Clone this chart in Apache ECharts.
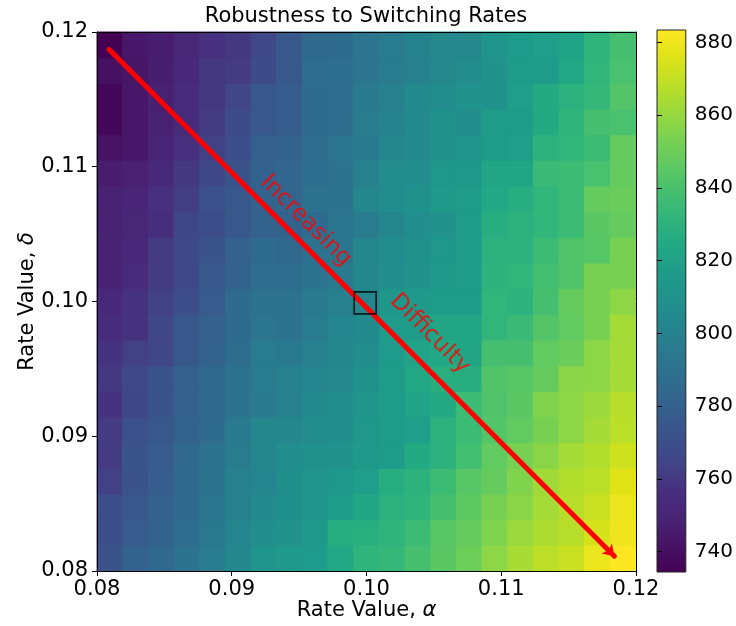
<!DOCTYPE html>
<html>
<head>
<meta charset="utf-8">
<script src="https://cdn.jsdelivr.net/npm/echarts@6/dist/echarts.min.js"></script>
<style>html,body{margin:0;padding:0;background:#fff;}#chart{width:736px;height:626px;}</style>
</head>
<body>
<div id="chart"></div>
<script>
// Switching-rate grid (alpha along x, delta along y)
const alphaValues = [0.080,0.082,0.084,0.086,0.088,0.090,0.092,0.094,0.096,0.098,0.100,0.102,0.104,0.106,0.108,0.110,0.112,0.114,0.116,0.118,0.120];
const deltaValues = [0.080,0.082,0.084,0.086,0.088,0.090,0.092,0.094,0.096,0.098,0.100,0.102,0.104,0.106,0.108,0.110,0.112,0.114,0.116,0.118,0.120];
const axisTicks = [0.08, 0.09, 0.10, 0.11, 0.12];
const colorbarTicks = [740, 760, 780, 800, 820, 840, 860, 880];

// Robustness values, one row per delta (top row delta = 0.120 ... bottom row delta = 0.080)
const d120 = [734.4,744,746,751,757,760,767,775,784,786,793,796,801,804,804,812,816,818,821,831,839];
const d118 = [741,743,747,753,760,761,768,775,787,788,793,796,799,804,806,810,817,817,824,832,840];
const d116 = [737,744,748,755,760,765,775,778,786,787,795,799,805,806,810,809,818,825,829,833,843];
const d114 = [737,744,748,755,761,768,775,778,786,787,796,801,805,809,806,817,817,825,831,839,840];
const d112 = [742,744,750,757,763,770,779,781,787,793,795,803,805,809,812,817,818,830,832,836,848];
const d110 = [746,748,753,760,766,772,781,783,788,790,799,806,807,813,813,822,822,835,836,840,848];
const d108 = [749,750,757,762,771,775,781,783,790,790,803,806,809,815,817,824,827,832,836,848,849];
const d106 = [749,751,756,766,769,775,781,781,786,793,796,803,807,810,817,827,829,832,836,845,848];
const d104 = [749,752,761,767,773,780,786,784,790,793,803,806,809,813,817,829,829,836,842,844,853];
const d102 = [749,755,761,767,775,781,787,787,790,795,803,807,810,815,817,830,832,838,842,853,853];
const d100 = [753,758,763,769,777,786,790,790,795,799,803,813,815,817,817,832,830,839,848,853,858];
const d098 = [755,758,766,775,780,786,793,790,796,802,805,816,817,822,822,832,835,843,847,853,863];
const d096 = [758,763,766,775,781,787,796,795,799,803,806,816,821,824,822,839,839,847,849,858,863];
const d094 = [760,767,773,780,784,790,796,799,802,804,809,817,824,828,827,842,844,848,857,858,863];
const d092 = [758,766,773,780,784,790,795,799,805,806,812,817,821,825,836,842,845,855,858,861,867];
const d090 = [761,771,775,781,786,795,803,803,806,807,813,817,818,829,836,843,847,853,858,863,868];
const d088 = [761,773,777,784,790,796,803,807,809,810,815,817,825,829,838,847,853,857,863,866,872];
const d086 = [763,773,778,784,791,799,802,808,812,813,818,827,830,836,844,848,855,862,866,868,876];
const d084 = [769,775,780,785,793,799,805,808,812,817,823,829,831,839,846,853,857,863,867,871,879];
const d082 = [770,777,781,787,794,802,807,810,815,827,828,831,836,844,848,855,861,865,867,874,880];
const d080 = [773,781,784,790,796,803,812,815,816,824,831,833,839,845,850,858,864,868,871,879,883.4];

// Annotations (data coordinates)
const arrowStart = [0.0809, 0.1187];
const arrowEnd = [0.1184, 0.0811];
const nominalPoint = [0.0999, 0.0999];
const textIncreasing = [0.0955, 0.1060];
const textDifficulty = [0.1047, 0.0976];

const rowsBottomUp = [d080,d082,d084,d086,d088,d090,d092,d094,d096,d098,d100,d102,d104,d106,d108,d110,d112,d114,d116,d118,d120];
const heatData = [];
rowsBottomUp.forEach((row, yi) => row.forEach((v, xi) => heatData.push([xi, yi, v])));
const allVals = heatData.map(d => d[2]);
const vMin = Math.min(...allVals);
const vMax = Math.max(...allVals);

const viridis = ['#440154','#471365','#482475','#472f7d','#414487','#3b528b','#355f8d','#2f6c8e','#2a788e','#25848e','#21918c','#1e9b8a','#22a884','#2fb47c','#44bf70','#5ec962','#7ad151','#9bd93c','#bddf26','#dfe318','#fde725'];
const FONT = 'DejaVu Sans';

const chart = echarts.init(document.getElementById('chart'), null, {renderer: 'canvas'});
const gradStops = viridis.map((c, i) => ({offset: 1 - i / (viridis.length - 1), color: c}));

const option = {
  animation: false,
  backgroundColor: '#ffffff',
  title: {
    text: 'Robustness to Switching Rates',
    left: 366, top: 6, padding: 0, textAlign: 'center',
    textStyle: {fontFamily: FONT, fontSize: 21, fontWeight: 'normal', color: '#000'}
  },
  grid: [
    {left: 97, top: 32, width: 539, height: 539},
    {left: 657, top: 30, width: 29, height: 542}
  ],
  visualMap: {
    type: 'continuous', show: false, seriesIndex: 0, dimension: 2,
    min: vMin, max: vMax,
    inRange: {color: viridis}
  },
  xAxis: [
    {type: 'category', gridIndex: 0, position: 'top', data: alphaValues.map(v => v.toFixed(3)),
     axisLine: {show: true, lineStyle: {color: '#000', width: 1}}, axisTick: {show: false}, axisLabel: {show: false},
     splitLine: {show: false}, z: 10},
    {type: 'value', gridIndex: 0, position: 'bottom', min: 0.08, max: 0.12, interval: 0.01,
     axisLine: {show: true, onZero: false, lineStyle: {color: '#000', width: 1}},
     axisTick: {show: true, length: 5, lineStyle: {color: '#000'}},
     axisLabel: {show: true, margin: 8, fontFamily: FONT, fontSize: 21, color: '#000', formatter: v => v.toFixed(2)},
     splitLine: {show: false},
     name: 'Rate Value, {i|α}', nameLocation: 'middle', nameGap: 29, nameMoveOverlap: false,
     nameTextStyle: {fontFamily: FONT, fontSize: 21, color: '#000', rich: {i: {fontFamily: FONT, fontSize: 21, fontStyle: 'italic', color: '#000'}}},
     z: 10},
    {type: 'value', gridIndex: 1, min: 0, max: 1, show: false}
  ],
  yAxis: [
    {type: 'category', gridIndex: 0, position: 'right', data: deltaValues.map(v => v.toFixed(3)),
     axisLine: {show: true, lineStyle: {color: '#000', width: 1}}, axisTick: {show: false}, axisLabel: {show: false},
     splitLine: {show: false}, z: 10},
    {type: 'value', gridIndex: 0, position: 'left', min: 0.08, max: 0.12, interval: 0.01,
     axisLine: {show: true, onZero: false, lineStyle: {color: '#000', width: 1}},
     axisTick: {show: true, length: 5, lineStyle: {color: '#000'}},
     axisLabel: {show: true, margin: 9, fontFamily: FONT, fontSize: 21, color: '#000', formatter: v => v.toFixed(2)},
     splitLine: {show: false},
     name: 'Rate Value, {i|δ}', nameLocation: 'middle', nameGap: 59, nameRotate: 90, nameMoveOverlap: false,
     nameTextStyle: {fontFamily: FONT, fontSize: 21, color: '#000', rich: {i: {fontFamily: FONT, fontSize: 21, fontStyle: 'italic', color: '#000'}}},
     z: 10},
    {type: 'value', gridIndex: 1, position: 'right', min: vMin, max: vMax,
     axisLine: {show: false},
     axisTick: {show: true, length: 5, lineStyle: {color: '#000'}, customValues: colorbarTicks},
     axisLabel: {show: true, margin: 9, fontFamily: FONT, fontSize: 20, color: '#000', customValues: colorbarTicks},
     splitLine: {show: false}, z: 10}
  ],
  series: [
    {type: 'custom', xAxisIndex: 0, yAxisIndex: 0, data: heatData, silent: true,
     encode: {x: 0, y: 1},
     renderItem: (params, api) => {
       const c = api.coord([api.value(0), api.value(1)]);
       const s = api.size([1, 1]);
       const col = api.visual('color');
       return {type: 'rect', shape: {x: c[0] - s[0] / 2, y: c[1] - s[1] / 2, width: s[0], height: s[1]},
               style: {fill: col, stroke: col, lineWidth: 1}};
     }},
    {type: 'lines', coordinateSystem: 'cartesian2d', xAxisIndex: 1, yAxisIndex: 1, z: 5,
     symbol: ['none', 'arrow'], symbolSize: 11,
     lineStyle: {color: '#ff0000', width: 5, opacity: 1, cap: 'round'},
     data: [{coords: [arrowStart, arrowEnd]}], silent: true},
    {type: 'scatter', xAxisIndex: 1, yAxisIndex: 1, z: 6, symbol: 'rect', symbolSize: 22,
     itemStyle: {color: 'rgba(0,0,0,0)', borderColor: '#000', borderWidth: 1.6},
     data: [nominalPoint], silent: true},
    {type: 'scatter', xAxisIndex: 1, yAxisIndex: 1, z: 7, symbolSize: 0, silent: true,
     label: {show: true, position: 'inside', rotate: -45, fontFamily: FONT, fontSize: 23, color: '#ff0000',
             formatter: p => p.name},
     data: [{name: 'Increasing', value: textIncreasing}, {name: 'Difficulty', value: textDifficulty}]},
    {type: 'custom', xAxisIndex: 2, yAxisIndex: 2, silent: true,
     data: [[0.5, vMin, vMax]],
     renderItem: (params, api) => {
       const cs = params.coordSys;
       const top = api.coord([0.5, api.value(2)]);
       const bot = api.coord([0.5, api.value(1)]);
       return {type: 'rect', shape: {x: cs.x, y: top[1], width: cs.width, height: bot[1] - top[1]},
               style: {fill: new echarts.graphic.LinearGradient(0, 0, 0, 1, gradStops), stroke: '#222', lineWidth: 1}};
     }}
  ]
};
chart.setOption(option);
</script>
</body>
</html>
